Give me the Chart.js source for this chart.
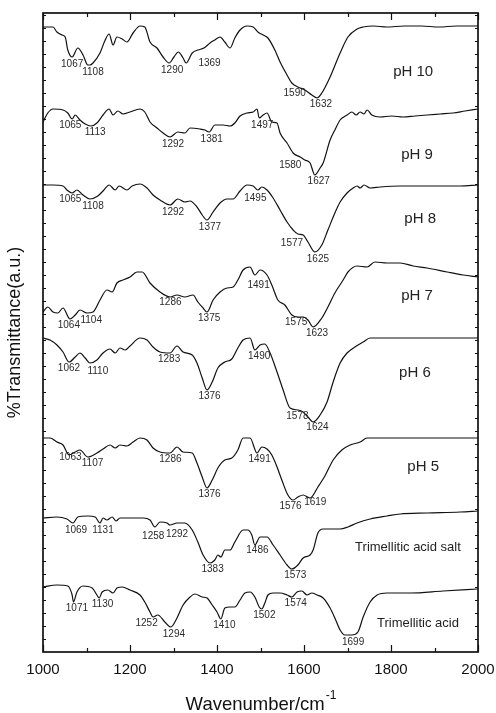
<!DOCTYPE html>
<html>
<head>
<meta charset="utf-8">
<script src="https://cdn.jsdelivr.net/npm/chart.js@4/dist/chart.umd.min.js"></script>
<style>
  html, body { margin: 0; padding: 0; background: #fff; }
  #wrap { width: 496px; height: 713px; }
</style>
</head>
<body>
<div id="wrap"><canvas id="ftir" width="496" height="713"></canvas></div>
<script>
/* Spectra (wavenumber / arbitrary transmittance units, traces stacked) */

const ph10Wn = [1000, 1011, 1023, 1032, 1044, 1051, 1057, 1067, 1080, 1092, 1103, 1108, 1115, 1131, 1143, 1152, 1161, 1170, 1182, 1193, 1207, 1223, 1234, 1246, 1262, 1276, 1290, 1301, 1311, 1322, 1329, 1343, 1356, 1370, 1384, 1395, 1407, 1418, 1430, 1441, 1453, 1469, 1483, 1494, 1506, 1517, 1533, 1545, 1561, 1572, 1586, 1602, 1618, 1630, 1641, 1660, 1683, 1701, 1722, 1736, 1760, 1790, 1830, 1870, 1910, 1950, 2000];
const ph10T = [625, 625, 625, 620, 617, 615, 602, 595, 604, 597, 587, 587, 589, 599, 612, 618, 607, 615, 613, 610, 619, 626, 625, 610, 604, 595, 589, 595, 600, 594, 589, 599, 602, 604, 609, 612, 615, 610, 604, 614, 622, 626, 625, 620, 617, 614, 602, 590, 577, 569, 565, 562, 557, 554, 559, 575, 599, 615, 623, 625, 626, 625, 626, 626, 625, 626, 626];

const ph9Wn = [1000, 1011, 1023, 1046, 1057, 1067, 1074, 1085, 1097, 1110, 1124, 1138, 1152, 1161, 1172, 1184, 1200, 1223, 1234, 1246, 1262, 1276, 1292, 1310, 1326, 1338, 1361, 1372, 1382, 1395, 1414, 1430, 1441, 1453, 1469, 1483, 1492, 1497, 1506, 1515, 1526, 1538, 1545, 1561, 1575, 1591, 1602, 1614, 1625, 1637, 1644, 1660, 1671, 1683, 1699, 1710, 1720, 1729, 1738, 1745, 1756, 1775, 1802, 1828, 1855, 1883, 1913, 1943, 1970, 2000];
const ph9T = [530, 539, 543, 542, 539, 533, 537, 532, 528, 526, 529, 537, 543, 537, 541, 538, 540, 543, 540, 530, 524, 519, 515, 520, 519, 524, 523, 522, 520, 527, 527, 526, 529, 536, 539, 540, 543, 534, 537, 539, 530, 529, 519, 509, 499, 495, 492, 489, 477, 484, 489, 512, 522, 532, 537, 540, 537, 540, 538, 542, 537, 535, 536, 535, 536, 537, 538, 539, 541, 543];

const ph8Wn = [1000, 1023, 1046, 1055, 1067, 1078, 1092, 1108, 1126, 1140, 1152, 1166, 1175, 1193, 1205, 1223, 1239, 1253, 1269, 1292, 1310, 1326, 1338, 1354, 1366, 1377, 1391, 1407, 1423, 1437, 1453, 1469, 1483, 1494, 1503, 1515, 1529, 1545, 1561, 1575, 1586, 1598, 1609, 1625, 1641, 1655, 1671, 1683, 1699, 1713, 1722, 1729, 1738, 1752, 1775, 1821, 1890, 1959, 2000];
const ph8T = [467, 467, 466, 462, 459, 462, 457, 453, 456, 462, 467, 462, 466, 462, 466, 468, 464, 457, 452, 447, 453, 450, 451, 445, 437, 432, 440, 449, 453, 453, 461, 467, 466, 462, 465, 462, 454, 442, 430, 422, 418, 417, 410, 400, 407, 422, 439, 450, 459, 464, 466, 464, 467, 464, 465, 466, 466, 466, 467];

const ph7Wn = [1000, 1011, 1023, 1034, 1046, 1062, 1074, 1085, 1101, 1115, 1131, 1147, 1159, 1170, 1184, 1200, 1216, 1228, 1246, 1269, 1292, 1308, 1326, 1345, 1356, 1368, 1377, 1391, 1407, 1423, 1437, 1448, 1460, 1476, 1487, 1499, 1515, 1526, 1540, 1556, 1572, 1586, 1598, 1609, 1621, 1641, 1655, 1671, 1690, 1701, 1722, 1745, 1763, 1791, 1821, 1851, 1883, 1929, 1966, 2000];
const ph7T = [340, 345, 340, 339, 344, 333, 337, 342, 339, 340, 352, 362, 360, 369, 372, 375, 380, 380, 369, 360, 355, 357, 355, 357, 350, 344, 340, 352, 360, 364, 365, 372, 382, 385, 377, 382, 377, 367, 352, 347, 337, 335, 335, 332, 325, 334, 345, 359, 372, 380, 386, 385, 390, 389, 389, 386, 384, 380, 377, 375];

const ph6Wn = [1000, 1016, 1032, 1046, 1060, 1074, 1085, 1097, 1108, 1124, 1138, 1154, 1166, 1177, 1189, 1200, 1223, 1239, 1253, 1269, 1292, 1308, 1322, 1343, 1354, 1366, 1377, 1389, 1402, 1418, 1434, 1448, 1460, 1476, 1487, 1499, 1510, 1522, 1538, 1552, 1568, 1586, 1598, 1609, 1621, 1637, 1653, 1667, 1683, 1699, 1717, 1736, 1752, 1821, 1890, 2000];
const ph6T = [314, 312, 307, 300, 290, 295, 299, 294, 289, 292, 299, 303, 299, 304, 302, 306, 314, 312, 305, 300, 299, 306, 300, 297, 289, 274, 262, 270, 284, 290, 293, 304, 312, 314, 302, 307, 308, 299, 280, 262, 244, 242, 240, 235, 230, 237, 250, 270, 289, 299, 305, 310, 314, 314, 314, 314];

const ph5Wn = [1000, 1016, 1032, 1046, 1060, 1074, 1085, 1103, 1124, 1138, 1154, 1166, 1177, 1193, 1207, 1223, 1239, 1253, 1269, 1292, 1308, 1322, 1343, 1354, 1366, 1377, 1389, 1402, 1418, 1434, 1448, 1460, 1476, 1492, 1503, 1515, 1526, 1538, 1549, 1563, 1575, 1586, 1598, 1614, 1632, 1648, 1667, 1687, 1706, 1729, 1745, 1821, 1913, 2000];
const ph5T = [214, 214, 210, 207, 197, 200, 202, 195, 199, 203, 207, 204, 207, 206, 210, 214, 212, 204, 200, 199, 205, 200, 199, 189, 175, 164, 172, 184, 192, 194, 202, 214, 214, 199, 205, 203, 197, 185, 172, 157, 152, 155, 157, 154, 165, 176, 192, 202, 207, 210, 214, 214, 214, 214];

const saltWn = [1000, 1032, 1055, 1069, 1080, 1103, 1120, 1131, 1138, 1147, 1159, 1168, 1177, 1200, 1230, 1246, 1257, 1269, 1285, 1292, 1308, 1326, 1343, 1356, 1368, 1384, 1395, 1402, 1409, 1418, 1430, 1441, 1460, 1471, 1480, 1487, 1499, 1515, 1529, 1545, 1561, 1572, 1586, 1598, 1614, 1621, 1632, 1644, 1667, 1683, 1701, 1722, 1752, 1791, 1821, 1883, 1959, 2000];
const saltT = [134, 135, 133, 129, 135, 136, 135, 129, 134, 132, 135, 131, 134, 134, 134, 132, 125, 130, 129, 127, 129, 129, 122, 110, 97, 89, 92, 97, 95, 102, 102, 110, 122, 122, 117, 107, 115, 115, 107, 97, 87, 83, 87, 94, 97, 102, 119, 123, 123, 123, 125, 129, 133, 136, 138, 139, 140, 141];

const acidWn = [1000, 1032, 1057, 1067, 1070, 1078, 1092, 1113, 1124, 1129, 1136, 1149, 1161, 1170, 1182, 1200, 1223, 1234, 1246, 1253, 1264, 1280, 1294, 1308, 1322, 1338, 1349, 1366, 1377, 1389, 1400, 1409, 1418, 1430, 1441, 1453, 1464, 1476, 1487, 1497, 1503, 1510, 1517, 1529, 1545, 1561, 1572, 1584, 1595, 1607, 1618, 1630, 1644, 1660, 1671, 1683, 1694, 1710, 1724, 1736, 1752, 1768, 1791, 1844, 1920, 2000];
const acidT = [65, 67, 66, 57, 50, 60, 66, 64, 57, 54, 60, 62, 59, 64, 65, 62, 57, 50, 40, 35, 37, 30, 25, 34, 47, 55, 58, 55, 54, 47, 40, 33, 44, 45, 45, 52, 59, 60, 55, 45, 43, 49, 57, 59, 59, 57, 55, 60, 61, 57, 59, 57, 54, 44, 34, 22, 17, 17, 20, 35, 50, 57, 59, 59, 61, 63];

const names = ['pH 10', 'pH 9', 'pH 8', 'pH 7', 'pH 6', 'pH 5', 'Trimellitic acid salt', 'Trimellitic acid'];

const ph10Peaks = [1067, 1108, 1290, 1369, 1590, 1632];
const ph9Peaks = [1065, 1113, 1292, 1381, 1497, 1580, 1627];
const ph8Peaks = [1065, 1108, 1292, 1377, 1495, 1577, 1625];
const ph7Peaks = [1064, 1104, 1286, 1375, 1491, 1575, 1623];
const ph6Peaks = [1062, 1110, 1283, 1376, 1490, 1578, 1624];
const ph5Peaks = [1063, 1107, 1286, 1376, 1491, 1576, 1619];
const saltPeaks = [1069, 1131, 1258, 1292, 1383, 1486, 1573];
const acidPeaks = [1071, 1130, 1252, 1294, 1410, 1502, 1574, 1699];

const xTicks = [1000, 1200, 1400, 1600, 1800, 2000];

/* Layout of the text (not data) */

// where each trace name sits, in axis units
const nameSpots = [[1851, 580], [1860, 497], [1867, 433], [1860, 356], [1855, 279], [1874, 185], [1839, 105], [1862, 29]];
// small pixel nudges so peak labels do not overlap
const nudges = [
  {1067: [-3, 0], 1369: [3, 8], 1590: [-8, -2]},
  {1065: [-4, 0], 1580: [-8, 4]},
  {1065: [-4, 0], 1495: [-6, 2], 1577: [-5, 6]},
  {1064: [-5, 0], 1491: [-1, 5]},
  {1062: [-4, 0], 1110: [4, 2]},
  {1063: [-3, -4], 1576: [-6, 0]},
  {1258: [-5, 3], 1292: [4, 2]},
  {1252: [-9, 0], 1699: [3, 0]}
];

const traces = [
  [ph10Wn, ph10T, ph10Peaks], [ph9Wn, ph9T, ph9Peaks], [ph8Wn, ph8T, ph8Peaks],
  [ph7Wn, ph7T, ph7Peaks], [ph6Wn, ph6T, ph6Peaks], [ph5Wn, ph5T, ph5Peaks],
  [saltWn, saltT, saltPeaks], [acidWn, acidT, acidPeaks]
];

const FONT = '"Liberation Sans", Arial, sans-serif';

function valueAt(xs, ys, w) {
  for (let i = 1; i < xs.length; i++) {
    if (w <= xs[i]) {
      const t = (w - xs[i - 1]) / (xs[i] - xs[i - 1]);
      return ys[i - 1] + t * (ys[i] - ys[i - 1]);
    }
  }
  return ys[ys.length - 1];
}

const overlay = {
  id: 'overlay',
  afterDraw(chart) {
    const {ctx, chartArea: a, scales: {x, y}} = chart;
    ctx.save();

    // frame
    ctx.strokeStyle = '#111';
    ctx.lineWidth = 1.7;
    ctx.strokeRect(a.left, a.top, a.right - a.left, a.bottom - a.top);

    // inward ticks
    ctx.lineWidth = 1.2;
    ctx.beginPath();
    for (let v = 1000; v <= 2000; v += 100) {
      const px = Math.round(x.getPixelForValue(v)) + 0.5;
      const len = v % 200 === 0 ? 7 : 4;
      ctx.moveTo(px, a.bottom); ctx.lineTo(px, a.bottom - len);
      ctx.moveTo(px, a.top); ctx.lineTo(px, a.top + len);
    }
    for (let v = 13; v < 639; v += 13) {
      const py = Math.round(y.getPixelForValue(v)) + 0.5;
      ctx.moveTo(a.left, py); ctx.lineTo(a.left + 3, py);
      ctx.moveTo(a.right, py); ctx.lineTo(a.right - 3, py);
    }
    ctx.stroke();

    // peak labels
    ctx.fillStyle = '#2a2a2a';
    ctx.font = '10px ' + FONT;
    ctx.textAlign = 'center';
    ctx.textBaseline = 'middle';
    traces.forEach(([xs, ys, peaks], i) => {
      peaks.forEach((w) => {
        const n = nudges[i][w] || [0, 0];
        const px = x.getPixelForValue(w) + 3 + n[0];
        const py = y.getPixelForValue(valueAt(xs, ys, w)) + 7 + n[1];
        ctx.fillText(String(w), px, py);
      });
    });

    // trace names
    ctx.fillStyle = '#222';
    names.forEach((name, i) => {
      ctx.font = (i < 6 ? '15px ' : '13px ') + FONT;
      ctx.fillText(name, x.getPixelForValue(nameSpots[i][0]), y.getPixelForValue(nameSpots[i][1]));
    });

    // axis titles
    ctx.fillStyle = '#111';
    const main = 'Wavenumber/cm';
    ctx.font = '18.5px ' + FONT;
    const wMain = ctx.measureText(main).width;
    ctx.font = '12px ' + FONT;
    const wSup = ctx.measureText('-1').width;
    const cx = (a.left + a.right) / 2;
    const startX = cx - (wMain + wSup) / 2;
    ctx.textAlign = 'left';
    ctx.textBaseline = 'alphabetic';
    ctx.font = '18.5px ' + FONT;
    ctx.fillText(main, startX, 710);
    ctx.font = '12px ' + FONT;
    ctx.fillText('-1', startX + wMain + 1, 699);

    ctx.translate(15, (a.top + a.bottom) / 2);
    ctx.rotate(-Math.PI / 2);
    ctx.textAlign = 'center';
    ctx.textBaseline = 'middle';
    ctx.font = '18px ' + FONT;
    ctx.fillText('%Transmittance(a.u.)', 0, 0);

    ctx.restore();
  }
};

const ctx = document.getElementById('ftir');
new Chart(ctx, {
  type: 'scatter',
  data: {
    datasets: traces.map(([xs, ys], i) => ({
      label: names[i],
      data: xs.map((w, j) => ({x: w, y: ys[j]})),
      showLine: true,
      borderColor: '#111',
      borderWidth: 1.2,
      pointRadius: 0,
      cubicInterpolationMode: 'monotone'
    }))
  },
  options: {
    responsive: false,
    animation: false,
    layout: {padding: {left: 43, right: 18, top: 13, bottom: 0}},
    scales: {
      x: {
        type: 'linear',
        min: 1000,
        max: 2000,
        grid: {display: false, drawTicks: false},
        border: {display: false},
        afterFit: (scale) => {
          scale.height = 61;
          scale.paddingLeft = 0;
          scale.paddingRight = 0;
        },
        afterBuildTicks: (scale) => { scale.ticks = xTicks.map((v) => ({value: v})); },
        ticks: {
          padding: 9,
          color: '#111',
          font: {family: FONT, size: 15},
          maxRotation: 0,
          callback: (v) => String(v)
        }
      },
      y: {
        display: false,
        min: 0,
        max: 639
      }
    },
    plugins: {
      legend: {display: false},
      tooltip: {enabled: false}
    }
  },
  plugins: [overlay]
});
</script>
</body>
</html>
